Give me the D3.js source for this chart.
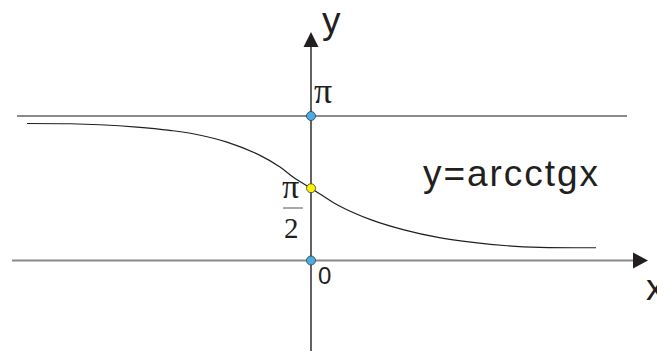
<!DOCTYPE html>
<html><head><meta charset="utf-8">
<script src="https://cdn.jsdelivr.net/npm/d3@7"></script>
<style>html,body{margin:0;padding:0;background:#fff;overflow:hidden}</style>
</head><body>
<svg id="c" width="657" height="353"></svg>
<script>
// curve samples (math units)
const curveX = [-7.1,-6.025,-5.275,-4.35,-3.525,-2.95,-2.1,-1.275,-0.775,-0.45,0,0.275,0.675,1.525,2.35,3.175,4.05,4.9,5.725,7.125];
const curveY = [2.979,2.973,2.951,2.899,2.828,2.756,2.574,2.286,2.033,1.816,1.571,1.42,1.203,0.878,0.661,0.503,0.394,0.321,0.286,0.277];
const markValues = [Math.PI, Math.PI/2, 0];
const markColors = ["#4aaee6", "#fff200", "#4aaee6"];
const title = "y=arcctgx";

const svg = d3.select("#c");
const x = d3.scaleLinear().domain([-7.5, 8.5]).range([11, 651]);
const y = d3.scaleLinear().domain([0, Math.PI]).range([260.5, 116]);
const ax = "#231f20", grey = "#8a8a8a";

// pi asymptote
svg.append("line").attr("x1", 17).attr("x2", 627).attr("y1", y(Math.PI)).attr("y2", y(Math.PI))
  .attr("stroke", grey).attr("stroke-width", 2);
// x axis
svg.append("line").attr("x1", 12).attr("x2", 634).attr("y1", y(0)).attr("y2", y(0))
  .attr("stroke", grey).attr("stroke-width", 2);
svg.append("path").attr("d", `M${648},${y(0)} L${633},${y(0)-8} L${633},${y(0)+8} Z`).attr("fill", ax);
// y axis
svg.append("line").attr("x1", x(0)).attr("x2", x(0)).attr("y1", 45).attr("y2", 351)
  .attr("stroke", ax).attr("stroke-width", 1.4);
svg.append("path").attr("d", `M${x(0)},32 L${x(0)-7.5},47 L${x(0)+7.5},47 Z`).attr("fill", ax);

// curve
const pts = curveX.map((v, i) => [v, curveY[i]]);
svg.append("path").datum(pts)
  .attr("d", d3.line().x(d => x(d[0])).y(d => y(d[1])).curve(d3.curveCatmullRom))
  .attr("fill", "none").attr("stroke", ax).attr("stroke-width", 1.2);

// markers
svg.selectAll("circle.m").data(markValues).join("circle")
  .attr("cx", x(0)).attr("cy", d => y(d)).attr("r", 4.5)
  .attr("fill", (d, i) => markColors[i]).attr("stroke", "#3a3a3a").attr("stroke-width", 0.8);

// labels
const sans = "Liberation Sans, Arial, sans-serif";
const serif = "Liberation Serif, Times New Roman, serif";
svg.append("text").attr("x", 322).attr("y", 33).attr("font-family", sans).attr("font-size", 37).attr("fill", ax).text("y");
svg.append("text").attr("x", 646).attr("y", 300).attr("font-family", sans).attr("font-size", 37).attr("fill", ax).text("x");
svg.append("text").attr("x", 314).attr("y", 103).attr("font-family", serif).attr("font-size", 36).attr("fill", ax).text("π");
svg.append("text").attr("x", 282).attr("y", 198).attr("font-family", serif).attr("font-size", 34).attr("fill", ax).text("π");
svg.append("line").attr("x1", 283).attr("x2", 303).attr("y1", 208).attr("y2", 208).attr("stroke", "#555").attr("stroke-width", 1);
svg.append("text").attr("x", 284).attr("y", 238).attr("font-family", serif).attr("font-size", 29).attr("fill", ax).text("2");
svg.append("text").attr("x", 318).attr("y", 284).attr("font-family", sans).attr("font-size", 24).attr("fill", ax).text("0");
svg.append("text").attr("x", 423).attr("y", 186).attr("font-family", sans).attr("font-size", 37).attr("fill", ax)
  .attr("textLength", 175).attr("lengthAdjust", "spacing").text(title);
</script>
</body></html>
